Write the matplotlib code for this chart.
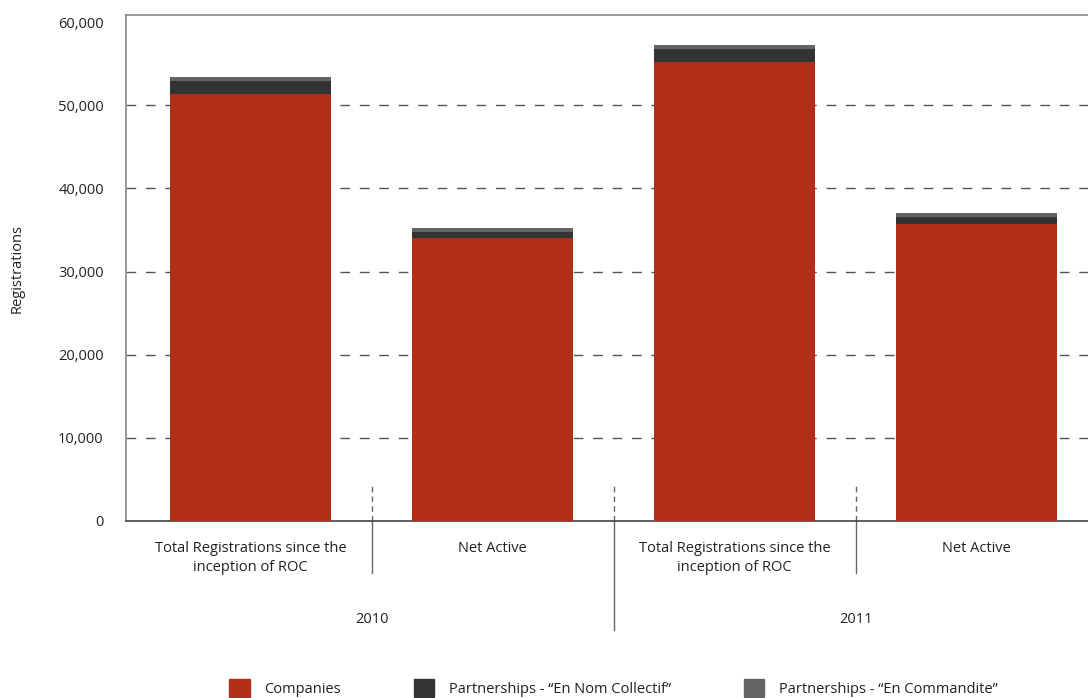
import matplotlib.pyplot as plt
from matplotlib.patches import Patch
from matplotlib.ticker import FuncFormatter
import matplotlib.transforms as mtransforms

plt.rcParams['font.family'] = ['Open Sans', 'DejaVu Sans']

# registrations by type, 2010 and 2011
categories = ['Total Registrations since the\ninception of ROC', 'Net Active',
              'Total Registrations since the\ninception of ROC', 'Net Active']
years = ['2010', '2011']
companies = [51400, 34050, 55200, 35700]
en_nom_collectif = [1500, 700, 1550, 850]
en_commandite = [500, 480, 480, 480]

red = '#b22e17'
dark = '#333333'
grey = '#646464'

fig = plt.figure(figsize=(10.88, 6.98), dpi=100)
ax = fig.add_axes([126 / 1088, 177 / 698, 962 / 1088, 505.5 / 698])

x = list(range(len(categories)))
w = 0.665
ax.bar(x, companies, w, color=red, zorder=3)
bottom2 = [a for a in companies]
ax.bar(x, en_nom_collectif, w, bottom=bottom2, color=dark, zorder=3)
bottom3 = [a + b for a, b in zip(companies, en_nom_collectif)]
ax.bar(x, en_commandite, w, bottom=bottom3, color=grey, zorder=3)

ax.set_xlim(-0.515, 3.46)
ax.set_ylim(0, 60800)
ax.set_yticks(range(0, 60001, 10000))
ax.yaxis.set_major_formatter(FuncFormatter(lambda v, p: f'{int(v):,}'))
ax.tick_params(axis='y', length=0, pad=16, labelsize=10.5, colors='#222222')
ax.set_xticks([])
ax.set_ylabel('Registrations', fontsize=10.5, color='#222222')
ax.yaxis.set_label_coords(-0.105, 0.5)

for y in range(10000, 60000, 10000):
    ax.axhline(y, color='#555555', lw=1, ls=(0, (7, 7)), zorder=1)

for s in ['left', 'top']:
    ax.spines[s].set_color('#888888')
    ax.spines[s].set_linewidth(1.2)
ax.spines['right'].set_visible(False)
ax.spines['bottom'].set_color('#444444')
ax.spines['bottom'].set_linewidth(1.2)

# separators between groups: dashed above the axis, solid below it
trans = mtransforms.blended_transform_factory(ax.transData, ax.transAxes)
for xs, depth in [(0.5, -0.103), (1.5, -0.216), (2.5, -0.103)]:
    ax.plot([xs, xs], [0, 4200], color='#666666', lw=1, ls=(0, (4, 3)), clip_on=False, zorder=2)
    ax.plot([xs, xs], [0, depth], color='#666666', lw=1, transform=trans, clip_on=False)

for xi, lab in zip(x, categories):
    ax.text(xi, -0.04, lab, transform=trans, ha='center', va='top', fontsize=10.5,
            color='#222222', linespacing=1.3)
for i, yr in enumerate(years):
    ax.text(2 * i + 0.5, -0.194, yr, transform=trans, ha='center', va='center',
            fontsize=10.5, color='#222222')

handles = [Patch(color=red, label='Companies'),
           Patch(color=dark, label='Partnerships - \u201cEn Nom Collectif\u201d'),
           Patch(color=grey, label='Partnerships - \u201cEn Commandite\u201d')]
fig.legend(handles=handles, loc='lower center', bbox_to_anchor=(0.564, -0.017), ncol=3,
           frameon=False, fontsize=10.5, handlelength=1.4, handleheight=1.45,
           columnspacing=5.0, handletextpad=1.0, labelcolor='#222222')

fig.savefig('out.png', dpi=100)
